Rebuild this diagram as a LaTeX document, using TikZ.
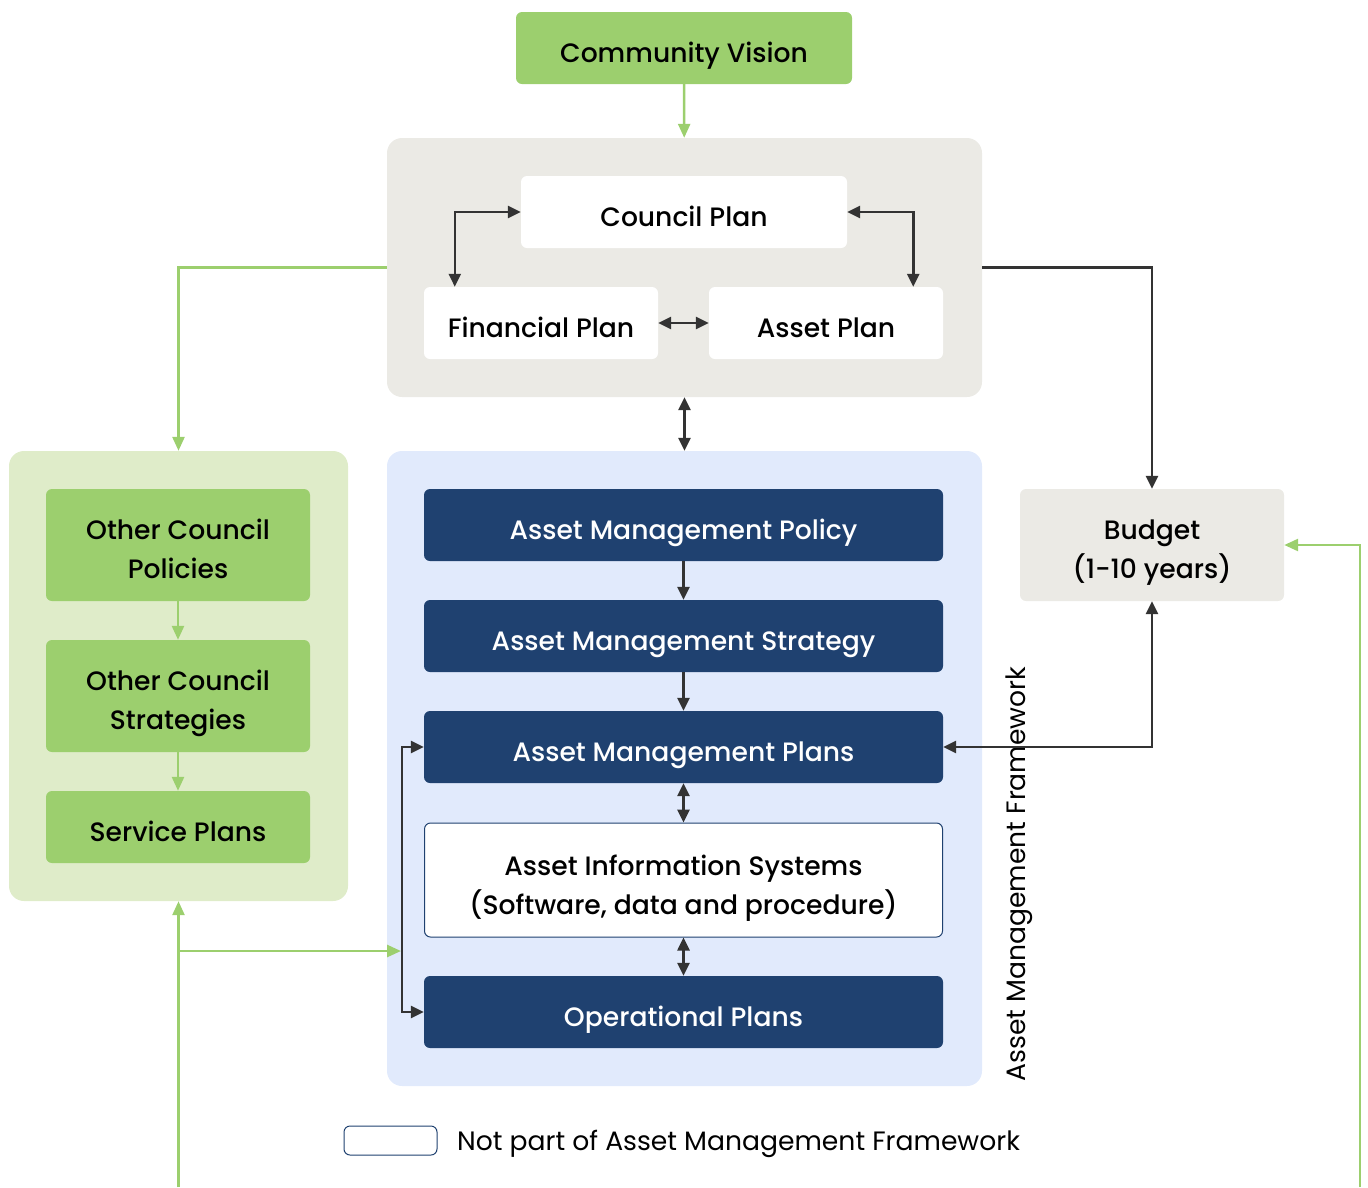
\documentclass[tikz,border=0pt]{standalone}
\usepackage{fontspec}
\setmainfont{Poppins}
\newfontfamily\medfont{Poppins Medium}
\usetikzlibrary{arrows.meta}
\definecolor{gfill}{HTML}{9CCF6E}
\definecolor{gbg}{HTML}{DFECC9}
\definecolor{graybg}{HTML}{EBEAE5}
\definecolor{bluebg}{HTML}{E1EAFC}
\definecolor{navy}{HTML}{1F4170}
\definecolor{darkline}{HTML}{333333}
\definecolor{gline}{HTML}{9CCF6E}
\begin{document}
\begin{tikzpicture}[x=1pt,y=-1pt,
  every node/.style={font=\medfont\fontsize{26.6}{39}\selectfont, align=center, inner sep=0pt},
  box/.style={rectangle, rounded corners=6pt, minimum width=#1, minimum height=72pt, text height=29pt, text depth=0pt},
  box/.default=264pt,
  twoline/.style={minimum height=112pt, text height=66pt, text depth=0pt},
  container/.style={rectangle, rounded corners=15pt},
  greenbox/.style={box=264pt, fill=gfill},
  whitebox/.style={box=#1, fill=white},
  navybox/.style={box=519pt, fill=navy, text=white},
  darr/.style={draw=darkline, line width=2.6pt, -{Triangle[length=13pt,width=12pt]}},
  dboth/.style={draw=darkline, line width=2.6pt, {Triangle[length=13pt,width=12pt]}-{Triangle[length=13pt,width=12pt]}},
  garr/.style={draw=gline, line width=2.6pt, -{Triangle[length=14pt,width=12pt]}}
]
\useasboundingbox (0,0) rectangle (1368,1187);
% containers
\node[container, fill=graybg, minimum width=595pt, minimum height=259pt] (top) at (684.5,267.5) {};
\node[container, fill=bluebg, minimum width=595pt, minimum height=635pt] (amf) at (684.5,768.5) {};
\node[container, fill=gbg, minimum width=339pt, minimum height=450pt] (oth) at (178.5,676) {};
% top
\node[box=336pt, fill=gfill] (cv) at (684,48) {Community Vision};
\node[whitebox=326pt] (council) at (684,212) {Council Plan};
\node[whitebox=234pt] (fin) at (541,323) {Financial Plan};
\node[whitebox=234pt] (asset) at (826,323) {Asset Plan};
% blue
\node[navybox] (pol) at (683.5,525) {Asset Management Policy};
\node[navybox] (str) at (683.5,636) {Asset Management Strategy};
\node[navybox] (plans) at (683.5,747) {Asset Management Plans};
\node[box=518pt, fill=white, draw=navy, line width=1pt, minimum height=114pt, text height=68pt] (ais) at (683.5,880) {Asset Information Systems\\(Software, data and procedure)};
\node[navybox] (ops) at (683.5,1012) {Operational Plans};
% green
\node[greenbox, twoline] (ocp) at (178,545) {Other Council\\Policies};
\node[greenbox, twoline] (ocs) at (178,696) {Other Council\\Strategies};
\node[greenbox] (sp) at (178,827) {Service Plans};
% budget
\node[box=264pt, fill=graybg, twoline] (budget) at (1152,545) {Budget\\(1-10 years)};
% label
\node[rotate=90, font=\fontsize{26.6}{30}\selectfont] (amflabel) at (1019,874) {Asset Management Framework};
% legend
\node[rectangle, rounded corners=6pt, draw=navy, line width=1pt, fill=white, minimum width=93pt, minimum height=29pt] (leg) at (390.5,1140.5) {};
\node[anchor=base west, font=\fontsize{26.6}{30}\selectfont] (legtext) at (457,1150) {Not part of Asset Management Framework};
% coordinates
\coordinate (bx) at (402,0);
\coordinate (gb) at (178.5,1187);
\coordinate (gj) at (178.5,951);
\coordinate (gt) at (401,951);
\coordinate (rb) at (1360,1187);
% connectors
\draw[garr] (cv) -- (top);
\draw[dboth] ([xshift=31pt]fin.north west) |- (council.west);
\draw[dboth] (council.east) -| ([xshift=-30pt]asset.north east);
\draw[dboth] (fin.east) -- (asset.west);
\draw[garr] (top.west) -| (oth.north);
\draw[darr] (top.east) -| (budget.north);
\draw[dboth] (top.south) -- (amf.north);
\draw[darr] (pol) -- (str);
\draw[darr] (str) -- (plans);
\draw[dboth] (plans) -- (ais);
\draw[dboth] (ais) -- (ops);
\draw[dboth] (plans.west) -- (plans.west -| bx) -- (ops.west -| bx) -- (ops.west);
\draw[dboth] (plans.east) -| (budget.south);
\draw[garr] (ocp) -- (ocs);
\draw[garr] (ocs) -- (sp);
\draw[garr] (gb) -- (oth.south);
\draw[garr] (gj) -- (gt);
\draw[garr] (rb) |- (budget.east);
\end{tikzpicture}
\end{document}
